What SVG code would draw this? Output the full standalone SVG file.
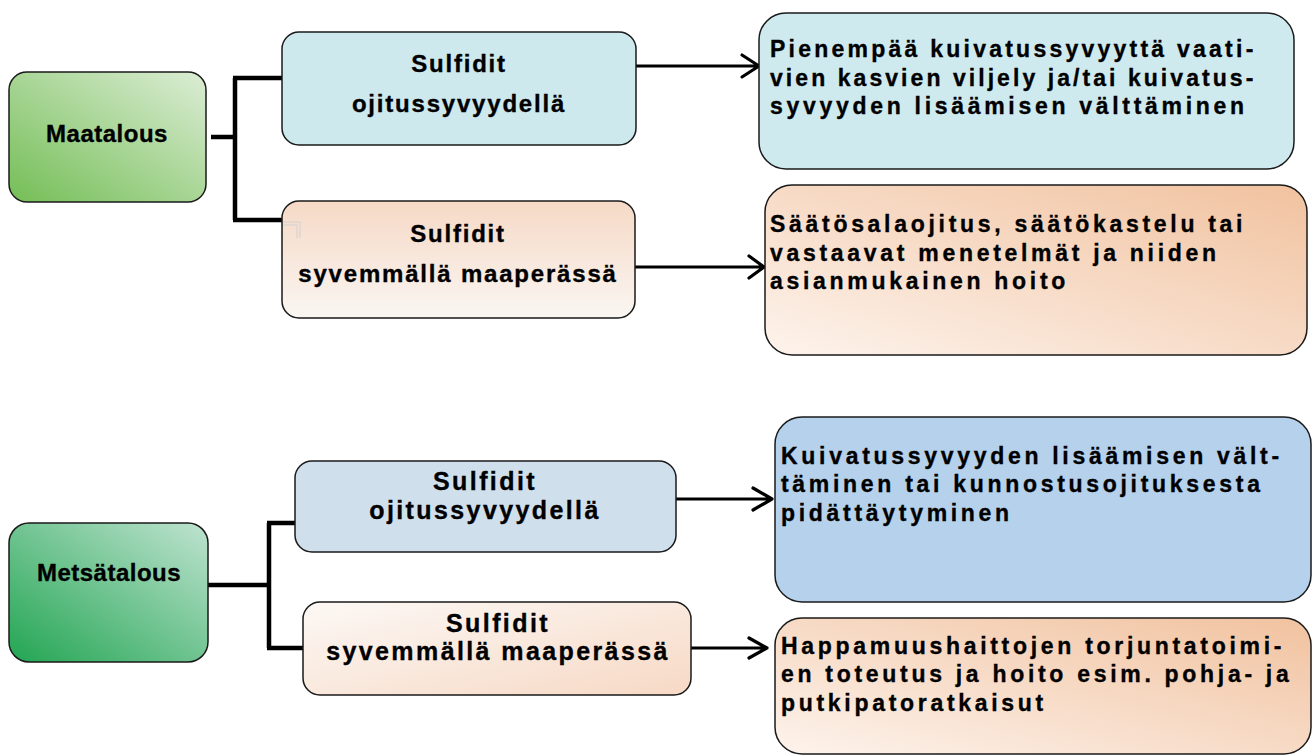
<svg xmlns="http://www.w3.org/2000/svg" width="1314" height="756" viewBox="0 0 1314 756">
  <defs>
    <linearGradient id="gMaa" x1="0" y1="1" x2="1" y2="0">
      <stop offset="0" stop-color="#74be56"/>
      <stop offset="1" stop-color="#dcedd5"/>
    </linearGradient>
    <linearGradient id="gMet" x1="0" y1="1" x2="1" y2="0">
      <stop offset="0" stop-color="#22a552"/>
      <stop offset="1" stop-color="#bfe3d0"/>
    </linearGradient>
    <linearGradient id="gPeachV" x1="0" y1="0" x2="0" y2="1">
      <stop offset="0" stop-color="#f6d9c6"/>
      <stop offset="1" stop-color="#faf6f2"/>
    </linearGradient>
    <linearGradient id="gPeachD" x1="0" y1="0" x2="1" y2="1">
      <stop offset="0" stop-color="#fcf8f5"/>
      <stop offset="1" stop-color="#f7d9c5"/>
    </linearGradient>
    <linearGradient id="gOrange" x1="0" y1="1" x2="1" y2="0">
      <stop offset="0" stop-color="#fdf3ec"/>
      <stop offset="1" stop-color="#f1c29f"/>
    </linearGradient>
    <style>
      .box { stroke: #1a1a1a; stroke-width: 1.5; }
      .conn { fill: none; stroke: #000; stroke-width: 4.5; stroke-linejoin: miter; stroke-linecap: butt; }
      .arr { fill: none; stroke: #000; stroke-width: 3.2; stroke-linecap: round; stroke-linejoin: round; }
      text { stroke: #000; stroke-width: 0.35px; }
      .head { font-family: "Liberation Sans", Arial, sans-serif; font-weight: bold; font-size: 24px; fill: #000; text-anchor: middle; letter-spacing: 0.5px; }
      .mid { font-family: "Liberation Sans", Arial, sans-serif; font-weight: bold; font-size: 24px; fill: #000; text-anchor: middle; letter-spacing: 1.8px; }
      .mid2 { font-family: "Liberation Sans", Arial, sans-serif; font-weight: bold; font-size: 25px; fill: #000; text-anchor: middle; letter-spacing: 2.4px; }
      .body { font-family: "Liberation Sans", Arial, sans-serif; font-weight: bold; font-size: 23px; fill: #000; letter-spacing: 3.7px; }
    </style>
  </defs>

  <g id="connectors">
    <path class="conn" d="M211,137 H235 M235,78 V220 M233,78 H283 M233,220 H283"/>
    <path class="conn" d="M208,585 H269 M269,523 V648 M267,523 H295 M267,648 H303"/>
    <path class="arr" d="M636,66 H759 M742,55 L759,66 L742,77"/>
    <path class="arr" d="M635,267 H764 M749,256 L764,267 L749,278"/>
    <path class="arr" d="M676,499 H772 M753,488 L772,499 L753,510"/>
    <path class="arr" d="M691,648 H767 M749,638 L767,648 L749,658"/>
  </g>

  <g id="maatalous">
    <rect class="box" x="9" y="72" width="197" height="130" rx="18" fill="url(#gMaa)"/>
    <text class="head" x="107" y="142">Maatalous</text>
  </g>

  <g id="maa-sulfidit-oji">
    <rect class="box" x="282" y="32" width="354" height="113" rx="17" fill="#cde9ee"/>
    <text class="mid" x="459" y="72">Sulfidit</text>
    <text class="mid" x="459" y="112">ojitussyvyydellä</text>
  </g>

  <g id="maa-sulfidit-syv">
    <rect class="box" x="282" y="201" width="353" height="117" rx="17" fill="url(#gPeachV)"/>
    <path d="M283,222 H300 V238 M283,225 H297 V238" fill="none" stroke="#d0d0d0" stroke-width="1"/>
    <text class="mid" x="458" y="242">Sulfidit</text>
    <text class="mid" x="458" y="282">syvemmällä maaperässä</text>
  </g>

  <g id="maa-toimi-1">
    <rect class="box" x="759" y="13" width="535" height="156" rx="27" fill="#cfeaef"/>
    <text class="body" x="770" y="57" textLength="487" lengthAdjust="spacing">Pienempää kuivatussyvyyttä vaati-</text>
    <text class="body" x="770" y="85.5" textLength="487" lengthAdjust="spacing">vien kasvien viljely ja/tai kuivatus-</text>
    <text class="body" x="770" y="114">syvyyden lisäämisen välttäminen</text>
  </g>

  <g id="maa-toimi-2">
    <rect class="box" x="765" y="185" width="542" height="170" rx="27" fill="url(#gOrange)"/>
    <text class="body" x="770" y="232">Säätösalaojitus, säätökastelu tai</text>
    <text class="body" x="770" y="260.5">vastaavat menetelmät ja niiden</text>
    <text class="body" x="770" y="289">asianmukainen hoito</text>
  </g>

  <g id="metsatalous">
    <rect class="box" x="9" y="523" width="199" height="139" rx="20" fill="url(#gMet)"/>
    <text class="head" x="109" y="581">Metsätalous</text>
  </g>

  <g id="met-sulfidit-oji">
    <rect class="box" x="295" y="461" width="381" height="91" rx="17" fill="#d0dfec"/>
    <text class="mid2" x="485" y="490">Sulfidit</text>
    <text class="mid2" x="485" y="519">ojitussyvyydellä</text>
  </g>

  <g id="met-sulfidit-syv">
    <rect class="box" x="303" y="602" width="388" height="93" rx="17" fill="url(#gPeachD)"/>
    <text class="mid2" x="498" y="632">Sulfidit</text>
    <text class="mid2" x="498" y="660">syvemmällä maaperässä</text>
  </g>

  <g id="met-toimi-1">
    <rect class="box" x="775" y="417" width="536" height="185" rx="27" fill="#b5d1eb"/>
    <text class="body" x="781" y="463.5">Kuivatussyvyyden lisäämisen vält-</text>
    <text class="body" x="781" y="492">täminen tai kunnostusojituksesta</text>
    <text class="body" x="781" y="520.5">pidättäytyminen</text>
  </g>

  <g id="met-toimi-2">
    <rect class="box" x="775" y="618" width="536" height="136" rx="27" fill="url(#gOrange)"/>
    <text class="body" x="781" y="653.5">Happamuushaittojen torjuntatoimi-</text>
    <text class="body" x="781" y="682">en toteutus ja hoito esim. pohja- ja</text>
    <text class="body" x="781" y="710.5">putkipatoratkaisut</text>
  </g>
</svg>
